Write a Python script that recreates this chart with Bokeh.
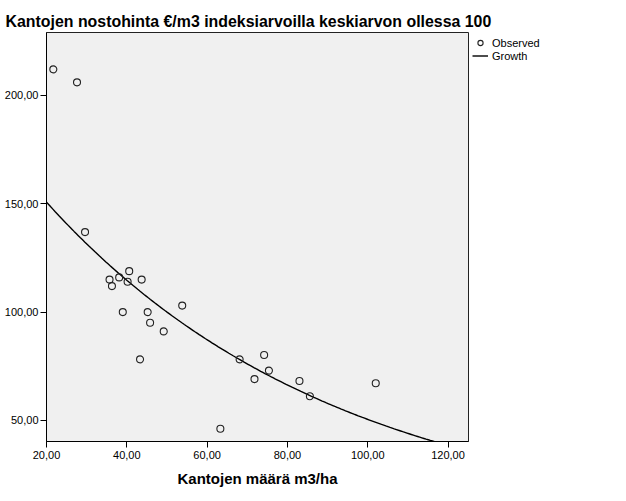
import numpy as np
from bokeh.plotting import figure
from bokeh.models import Range1d, FixedTicker, Legend, LegendItem, ColumnDataSource
from bokeh.embed import file_html
from bokeh.resources import INLINE

title_text = "Kantojen nostohinta €/m3 indeksiarvoilla keskiarvon ollessa 100"
x_label = "Kantojen määrä m3/ha"

amount = [21.7, 27.6, 29.6, 35.7, 36.3, 38.1, 40.6, 40.2, 43.7, 39.0, 45.2, 45.8,
          49.2, 53.8, 43.3, 68.1, 74.2, 75.4, 71.8, 83.0, 85.6, 102.0, 63.3]
price = [212.0, 206.0, 136.9, 115.0, 112.0, 116.0, 118.9, 114.0, 115.0, 100.0, 100.0, 95.1,
         91.1, 103.0, 78.2, 78.2, 80.2, 73.0, 69.1, 68.2, 61.2, 67.2, 46.2]

# Growth model: ln(y) = b0 + b1 * x
growth_b0 = 5.289
growth_b1 = -0.01367

x_ticks = [20, 40, 60, 80, 100, 120]
x_tick_labels = ["20,00", "40,00", "60,00", "80,00", "100,00", "120,00"]
y_ticks = [50, 100, 150, 200]
y_tick_labels = ["50,00", "100,00", "150,00", "200,00"]

FONT = "Liberation Sans"

p = figure(frame_width=422, frame_height=409, output_backend="svg", toolbar_location=None,
           x_range=Range1d(20, 125.1), y_range=Range1d(40.3, 229.0),
           min_border_left=46, min_border_right=0, min_border_top=32, min_border_bottom=60)
p.background_fill_color = "#f0f0f0"
p.border_fill_color = "white"
p.outline_line_color = "#222222"
p.outline_line_width = 1
p.grid.visible = False

p.title.text = title_text
p.title.text_font = FONT
p.title.text_font_size = "15.9px"
p.title.text_font_style = "bold"
p.title.text_color = "black"
p.title.align = "left"
p.title.offset = -41
p.title.standoff = 6

curve_x = np.linspace(20, 125.1, 200)
curve_y = np.exp(growth_b0 + growth_b1 * curve_x)
r_line = p.line(curve_x, curve_y, line_color="black", line_width=1.4)

src = ColumnDataSource(dict(x=amount, y=price))
r_pts = p.scatter("x", "y", source=src, size=7, marker="circle", fill_color=None,
                  line_color="#222222", line_width=1.1)

for ax in (p.xaxis[0], p.yaxis[0]):
    ax.axis_line_color = "black"
    ax.axis_line_width = 1
    ax.major_tick_line_color = "black"
    ax.major_tick_out = 6
    ax.major_tick_in = 0
    ax.minor_tick_line_color = None
    ax.major_label_text_font = FONT
    ax.major_label_text_font_size = "11px"
    ax.major_label_text_color = "black"

p.xaxis.ticker = FixedTicker(ticks=x_ticks)
p.xaxis.major_label_overrides = {t: l for t, l in zip(x_ticks, x_tick_labels)}
p.xaxis.major_label_standoff = 3
p.xaxis.axis_label = x_label
p.xaxis.axis_label_text_font = FONT
p.xaxis.axis_label_text_font_size = "15px"
p.xaxis.axis_label_text_font_style = "bold"
p.xaxis.axis_label_text_color = "black"
p.xaxis.axis_label_standoff = 8

p.yaxis.ticker = FixedTicker(ticks=y_ticks)
p.yaxis.major_label_overrides = {t: l for t, l in zip(y_ticks, y_tick_labels)}
p.yaxis.major_label_standoff = 2

legend = Legend(items=[LegendItem(label="Observed", renderers=[r_pts]),
                       LegendItem(label="Growth", renderers=[r_line])],
                location="top_left")
legend.background_fill_alpha = 0
legend.border_line_alpha = 0
legend.padding = 1
legend.margin = 3
legend.spacing = 0
legend.glyph_width = 16
legend.glyph_height = 13
legend.label_height = 13
legend.label_standoff = 4
legend.label_text_font = FONT
legend.label_text_font_size = "11px"
legend.label_text_color = "black"
p.add_layout(legend, "right")

open("out.html", "w").write(file_html(p, INLINE))
